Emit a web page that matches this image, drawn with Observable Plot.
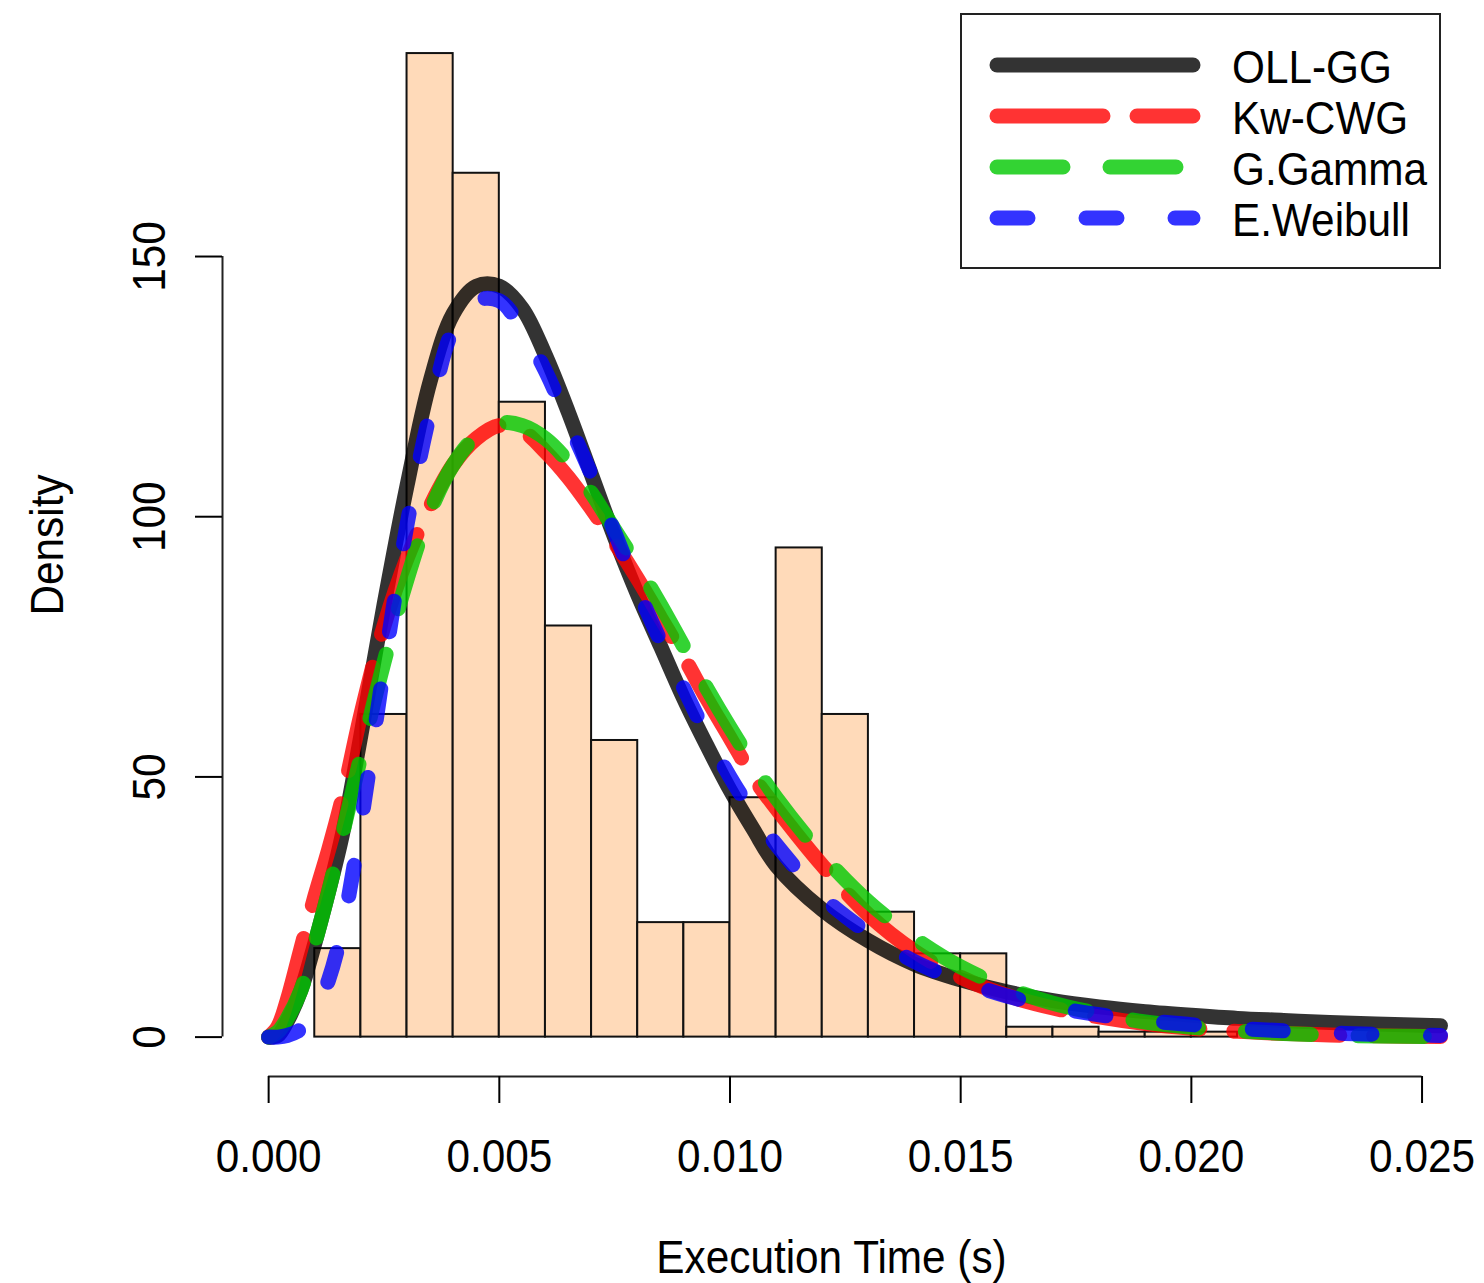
<!DOCTYPE html>
<html><head><meta charset="utf-8">
<script src="https://cdn.jsdelivr.net/npm/d3@7"></script>
<script src="https://cdn.jsdelivr.net/npm/@observablehq/plot@0.6"></script>
<style>
body{margin:0;background:#fff;}
#wrap{position:relative;width:1484px;height:1283px;font-family:"Liberation Sans",Arial,sans-serif;}
#wrap svg.legend{position:absolute;left:960px;top:13px;}
</style></head><body><div id="wrap"></div>
<script>
// ---- data ----
const binStart = [0.001,0.002,0.003,0.004,0.005,0.006,0.007,0.008,0.009,0.010,0.011,0.012,0.013,0.014,0.015,0.016,0.017,0.018,0.019,0.020];
const binDensity = [17,62,189,166,122,79,57,22,22,46,94,62,24,16,16,1.9,1.9,0.95,0.95,0.95];
const binWidth = 0.001;

const xGrid = [0,0.0002,0.0004,0.0007,0.001,0.0013,0.0016,0.002,0.0025,0.003,0.0035,0.004,0.0045,0.005,0.0055,0.006,0.0065,0.007,0.0075,0.008,0.0085,0.009,0.0095,0.010,0.0105,0.011,0.012,0.013,0.014,0.015,0.016,0.017,0.018,0.019,0.020,0.021,0.022,0.023,0.024,0.0254];
const ollgg    = [0,0.3,3,9,18,28,39,58,83,106,126,139,144.3,144.3,140,131,120,108,96,85,75,65,56,47.5,40,33,24.5,18.5,14,11,8.7,7,5.8,4.9,4.2,3.6,3.2,2.8,2.5,2.2];
const kwcwg    = [0,2,7,17,27,36,46,62,79,92,102,110,115,117.5,116.5,112.5,107.5,101.5,95,88,80.5,73,65,57.5,50,44,33,23.5,16.5,11.5,8,5.6,3.9,2.6,1.7,1.1,0.7,0.4,0.25,0.1];
const ggamma   = [0,1,3.5,9,18,28,39,54,72,88,101,110,115.5,118,117.5,115,110.5,104.5,97.5,90.5,83,75,67,59.5,52.5,46,35,26,19,13.5,9.5,6.5,4.5,2.9,1.9,1.2,0.7,0.4,0.2,0.1];
const eweibull = [0,0,0.3,1.5,4.5,11,21,41,71,98.5,120,136,141.5,141.5,136,128,118,108,97,86,76,67,58,50,43,37,27,20,14.5,10.8,7.9,5.8,4.3,3.2,2.4,1.7,1.2,0.8,0.55,0.3];

const seriesNames  = ["OLL-GG","Kw-CWG","G.Gamma","E.Weibull"];
const seriesValues = [ollgg, kwcwg, ggamma, eweibull];
const seriesColors = ["#000000","#ff0000","#00c800","#0000ff"];
const seriesDash   = [null,"106,34","66,47","31,58"];

const xTicks = [0,0.005,0.010,0.015,0.020,0.025];
const yTicks = [0,50,100,150];
const xLabel = "Execution Time (s)";
const yLabel = "Density";

// ---- layout ----
const W = 1484, H = 1283;
const xDomain = [-0.001, 0.0254];
const yDomain = [-7.57, 196.7];
const FS = 47, SX = 0.9, LW = 15;
const FONT = "'Liberation Sans', Arial, sans-serif";

const bins = binStart.map((s, i) => ({x1: s, x2: s + binWidth, y: binDensity[i]}));
const curveMarks = seriesNames.map((name, k) =>
  Plot.line(xGrid.map((x, i) => ({x, y: seriesValues[k][i]})), {
    x: "x", y: "y", stroke: seriesColors[k], strokeWidth: LW, strokeOpacity: 0.8,
    strokeDasharray: seriesDash[k] || undefined, strokeLinecap: "round", strokeLinejoin: "round",
    curve: "catmull-rom"
  })
);

const svg = Plot.plot({
  width: W, height: H,
  marginLeft: 222, marginRight: 44, marginTop: 13, marginBottom: 207,
  x: {domain: xDomain},
  y: {domain: yDomain},
  style: {fontFamily: FONT, fontSize: FS + "px", background: "transparent", color: "#000", overflow: "visible"},
  marks: [
    Plot.rect(bins, {x1: "x1", x2: "x2", y1: () => 0, y2: "y", fill: "#FFDAB9", stroke: "#111", strokeWidth: 2}),
    ...curveMarks,
    Plot.ruleY([yDomain[0]], {x1: () => xTicks[0], x2: () => xTicks[xTicks.length - 1], stroke: "#222", strokeWidth: 2}),
    Plot.ruleX([xDomain[0]], {y1: () => yTicks[0], y2: () => yTicks[yTicks.length - 1], stroke: "#222", strokeWidth: 2}),
    Plot.axisX({ticks: xTicks, tickSize: 27, tickPadding: 35, tickFormat: d3.format(".3f"), label: null, strokeWidth: 2, fontSize: FS}),
    Plot.axisY({ticks: yTicks, tickSize: 27, tickFormat: () => "", label: null, strokeWidth: 2}),
    Plot.text(yTicks, {y: d => d, text: d => String(d), frameAnchor: "left", dx: -73, rotate: -90, textAnchor: "middle", lineAnchor: "middle", fontSize: FS}),
    Plot.text([yLabel], {text: d => d, frameAnchor: "left", dx: -175, rotate: -90, textAnchor: "middle", lineAnchor: "middle", fontSize: FS}),
    Plot.text([xLabel], {text: d => d, frameAnchor: "bottom", dy: 181, textAnchor: "middle", lineAnchor: "middle", fontSize: FS})
  ]
});

const wrap = document.getElementById("wrap");
wrap.appendChild(svg);

// ---- legend ----
const LWd = 482, LH = 257;
const leg = d3.select(wrap).append("svg").attr("class", "legend").attr("width", LWd).attr("height", LH);
leg.append("rect").attr("x", 1).attr("y", 1).attr("width", LWd - 3).attr("height", LH - 3)
  .attr("fill", "#fff").attr("stroke", "#222").attr("stroke-width", 2);
const rowY = k => 52 + k * 51;
seriesNames.forEach((name, k) => {
  const ln = leg.append("line").attr("x1", 37).attr("x2", 233).attr("y1", rowY(k)).attr("y2", rowY(k))
    .attr("stroke", seriesColors[k]).attr("stroke-opacity", 0.8).attr("stroke-width", LW)
    .attr("stroke-linecap", "round");
  if (seriesDash[k]) ln.attr("stroke-dasharray", seriesDash[k]);
  leg.append("text").attr("x", 272).attr("y", rowY(k) + 2)
    .attr("dy", "0.35em").attr("font-size", FS).attr("font-family", FONT)
    .attr("fill", "#000").text(name);
});

// condense all text horizontally, like the reference's narrow glyphs
d3.select(wrap).selectAll("text").each(function() {
  const L = this.getComputedTextLength();
  if (L > 0) {
    this.setAttribute("textLength", (L * SX).toFixed(1));
    this.setAttribute("lengthAdjust", "spacingAndGlyphs");
  }
});
</script></body></html>
